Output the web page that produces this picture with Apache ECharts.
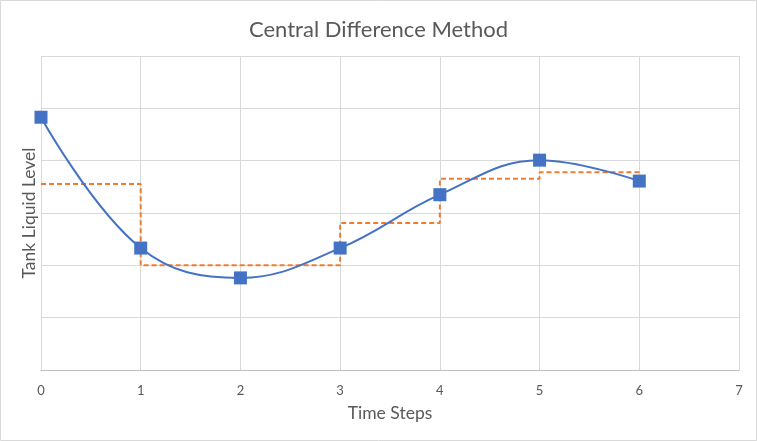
<!DOCTYPE html>
<html>
<head>
<meta charset="utf-8">
<script src="https://cdn.jsdelivr.net/npm/echarts@6/dist/echarts.min.js"></script>
<style>
  html, body { margin: 0; padding: 0; background: #fff; }
  #chart { width: 757px; height: 441px; }
</style>
</head>
<body>
<div id="chart"></div>
<script>
// time step values along the x axis
const timeSteps = [0, 1, 2, 3, 4, 5, 6];
// tank liquid level at each step (blue smooth line with markers)
const tankLevel = [4.83, 2.33, 1.76, 2.33, 3.35, 4.01, 3.61];
// central difference estimate held over each step (orange dashed)
const centralDiff = [3.555, 2.0, 2.0, 2.81, 3.655, 3.78, 3.61];

const fontName = 'Lato';
const textColor = '#595959';

var chart = echarts.init(document.getElementById('chart'));

const option = {
  animation: false,
  backgroundColor: '#fff',
  title: {
    text: 'Central Difference Method',
    left: 'center',
    top: 14,
    textStyle: { fontFamily: fontName, fontSize: 22, fontWeight: 'normal', color: textColor }
  },
  grid: { left: 41, right: 18, top: 56, bottom: 71 },
  xAxis: {
    type: 'value',
    min: 0,
    max: 7,
    interval: 1,
    name: 'Time Steps',
    nameLocation: 'middle',
    nameGap: 34,
    nameTextStyle: { fontFamily: fontName, fontSize: 17.5, color: textColor },
    axisLine: { show: true, lineStyle: { color: '#bfbfbf', width: 1 } },
    axisTick: { show: false },
    axisLabel: { margin: 14, fontFamily: fontName, fontSize: 13, color: textColor },
    splitLine: { show: true, lineStyle: { color: '#d9d9d9', width: 1 } }
  },
  yAxis: {
    type: 'value',
    min: 0,
    max: 6,
    interval: 1,
    name: 'Tank Liquid Level',
    nameLocation: 'middle',
    nameGap: 3,
    nameTextStyle: { fontFamily: fontName, fontSize: 17.5, color: textColor },
    axisLine: { show: false },
    axisTick: { show: false },
    axisLabel: { show: false },
    splitLine: { show: true, lineStyle: { color: '#d9d9d9', width: 1 } }
  },
  graphic: [{
    type: 'rect',
    shape: { x: 0.5, y: 0.5, width: 756, height: 440 },
    style: { fill: null, stroke: '#d9d9d9', lineWidth: 1 },
    silent: true
  }],
  series: [
    {
      name: 'Central Difference',
      type: 'line',
      step: 'end',
      data: timeSteps.map((t, i) => [t, centralDiff[i]]),
      showSymbol: false,
      lineStyle: { color: '#ED7D31', width: 2, type: [5, 3] },
      z: 2
    },
    {
      name: 'Tank Level',
      type: 'line',
      smooth: 0.4,
      data: timeSteps.map((t, i) => [t, tankLevel[i]]),
      symbol: 'rect',
      symbolSize: 13,
      itemStyle: { color: '#4472C4' },
      lineStyle: { color: '#4472C4', width: 2 },
      z: 3
    }
  ]
};

chart.setOption(option);
</script>
</body>
</html>
